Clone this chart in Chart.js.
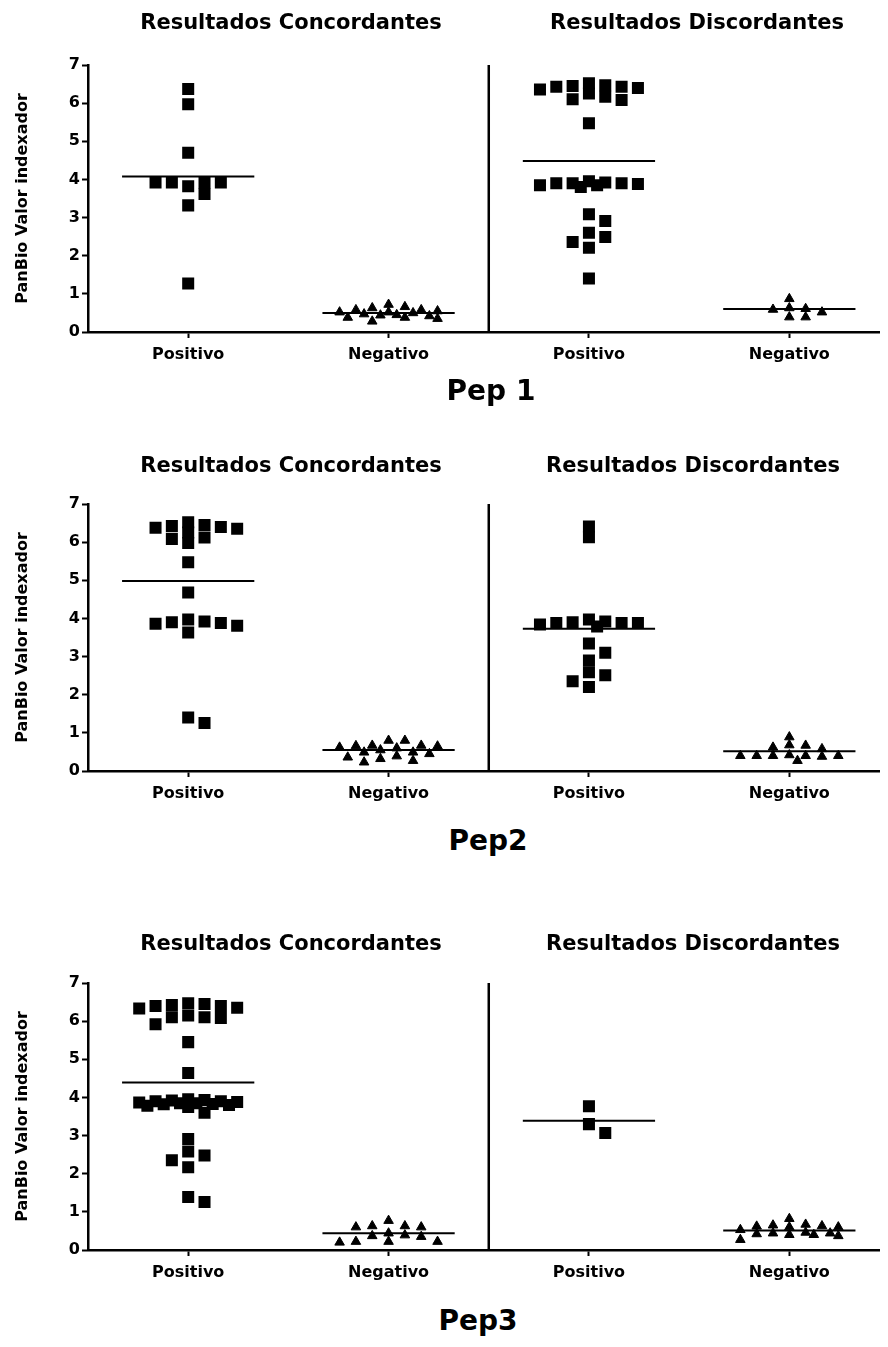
<!DOCTYPE html>
<html>
<head>
<meta charset="utf-8">
<script src="https://cdn.jsdelivr.net/npm/chart.js@4"></script>
<style>
  body { margin: 0; background: #fff; width: 888px; height: 1347px; position: relative; overflow: hidden; font-family: "DejaVu Sans", sans-serif; }
  .panel { position: absolute; left: 0; width: 888px; height: 375px; }
  .lbl { position: absolute; transform: translate(-50%, -50%); font-weight: bold; white-space: nowrap; color: #000; }
  .sub { font-size: 21px; }
  .pep { font-size: 28px; }
</style>
</head>
<body>
<div class="panel" style="top:0px"><canvas id="c1"></canvas></div>
<div class="panel" style="top:439px"><canvas id="c2"></canvas></div>
<div class="panel" style="top:918px"><canvas id="c3"></canvas></div>

<div class="lbl sub" id="t1a" style="left:291px;top:22px"></div>
<div class="lbl sub" id="t1b" style="left:697px;top:22px"></div>
<div class="lbl pep" id="p1" style="left:491px;top:390px"></div>
<div class="lbl sub" id="t2a" style="left:291px;top:465px"></div>
<div class="lbl sub" id="t2b" style="left:693px;top:465px"></div>
<div class="lbl pep" id="p2" style="left:488px;top:840px"></div>
<div class="lbl sub" id="t3a" style="left:291px;top:943px"></div>
<div class="lbl sub" id="t3b" style="left:693px;top:943px"></div>
<div class="lbl pep" id="p3" style="left:478px;top:1320px"></div>

<script>
const categories = ["Positivo", "Negativo", "Positivo", "Negativo"];
const yTicks = [0, 1, 2, 3, 4, 5, 6, 7];
const sectionTitles = ["Resultados Concordantes", "Resultados Discordantes"];
const panelTitles = ["Pep 1", "Pep2", "Pep3"];
const yTitle = "PanBio Valor indexador";

// Pep 1
const pep1ConcPos = [6.37, 5.97, 4.70, 3.82, 3.92, 3.92, 3.62, 3.92, 3.92, 3.32, 1.27];
const pep1ConcNeg = [0.72, 0.66, 0.63, 0.58, 0.58, 0.55, 0.52, 0.52, 0.50, 0.47, 0.45, 0.44, 0.42, 0.38, 0.38, 0.35, 0.28];
const pep1DiscPos = [6.52, 6.47, 6.45, 6.43, 6.43, 6.40, 6.36, 6.25, 6.17, 6.10, 6.08, 5.47,
  3.95, 3.92, 3.90, 3.90, 3.90, 3.88, 3.85, 3.85, 3.80, 3.09, 2.91, 2.60, 2.49, 2.36, 2.21, 1.40];
const pep1DiscNeg = [0.87, 0.63, 0.61, 0.59, 0.52, 0.39, 0.39];
const pep1Means = [4.08, 0.50, 4.48, 0.60];

// Pep 2
const pep2ConcPos = [6.52, 6.45, 6.42, 6.40, 6.38, 6.35, 6.25, 6.12, 6.08, 5.98, 5.47, 4.68,
  3.97, 3.92, 3.90, 3.88, 3.86, 3.81, 3.63, 1.40, 1.26];
const pep2ConcNeg = [0.80, 0.80, 0.67, 0.67, 0.66, 0.65, 0.62, 0.60, 0.55, 0.49, 0.49, 0.45, 0.39, 0.36, 0.32, 0.27, 0.23];
const pep2DiscPos = [6.41, 6.13, 3.97, 3.92, 3.90, 3.88, 3.88, 3.88, 3.84, 3.79, 3.34, 3.10, 2.90, 2.59, 2.51, 2.35, 2.20];
const pep2DiscNeg = [0.89, 0.68, 0.67, 0.62, 0.58, 0.42, 0.40, 0.40, 0.40, 0.40, 0.40, 0.38, 0.27];
const pep2Means = [4.98, 0.55, 3.73, 0.52];

// Pep 3
const pep3ConcPos = [6.47, 6.45, 6.42, 6.40, 6.40, 6.35, 6.33, 6.15, 6.10, 6.10, 6.08, 5.92, 5.45, 4.64,
  3.95, 3.93, 3.92, 3.90, 3.90, 3.88, 3.87, 3.85, 3.85, 3.83, 3.82, 3.80, 3.78, 3.75, 3.60,
  2.91, 2.58, 2.48, 2.35, 2.17, 1.39, 1.26];
const pep3ConcNeg = [0.77, 0.63, 0.63, 0.60, 0.60, 0.44, 0.39, 0.37, 0.35, 0.22, 0.22, 0.22, 0.20];
const pep3DiscPos = [3.77, 3.30, 3.07];
const pep3DiscNeg = [0.82, 0.67, 0.65, 0.63, 0.62, 0.60, 0.60, 0.53, 0.46, 0.44, 0.44, 0.42, 0.40, 0.40, 0.37, 0.27];
const pep3Means = [4.39, 0.44, 3.39, 0.51];

Chart.defaults.font.family = "'DejaVu Sans', sans-serif";
Chart.defaults.color = "#000";

const X_MIN = 0.5, X_MAX = 4.45;
const PX_X = 800 / (X_MAX - X_MIN), PX_Y = 267 / 7;

// column scatter spread, like the prism dot plots; overlaps once the column is full
function swarm(values, center, boxW, boxH, maxW) {
  const placed = [];
  const step = 8.25;
  const cands = [0];
  for (let k = 1; k * step <= maxW; k++) cands.push(k * step, -k * step);
  values.forEach(v => {
    const py = v * PX_Y;
    let best = null, bestScore = Infinity;
    for (const off of cands) {
      let score = 0;
      placed.forEach(p => {
        const ox = boxW - Math.abs(p.ox - off), oy = boxH - Math.abs(p.py - py);
        if (ox > 0 && oy > 0) score += ox * oy;
      });
      if (score < bestScore - 1e-9) { bestScore = score; best = off; }
      if (score === 0) break;
    }
    placed.push({ ox: best, py: py, v: v });
  });
  return placed.map(p => ({ x: center + p.ox / PX_X, y: p.v }));
}

function meanLine(center, m) {
  return {
    type: "line", data: [{ x: center - 0.33, y: m }, { x: center + 0.33, y: m }],
    borderColor: "#000", borderWidth: 2, pointRadius: 0, showLine: true
  };
}

function makePanel(id, groups, means) {
  const datasets = [];
  groups.forEach((vals, i) => {
    const sq = i % 2 === 0;
    datasets.push({
      data: sq ? swarm(vals, i + 1, 13, 10, 50) : swarm(vals, i + 1, 11, 8, 50),
      pointStyle: sq ? "rect" : "triangle",
      pointRadius: sq ? 8.5 : 5.5,
      backgroundColor: "#000",
      borderColor: "#000",
      borderWidth: sq ? 0 : 1
    });
    datasets.push(meanLine(i + 1, means[i]));
  });
  datasets.push({
    type: "line", data: [{ x: 2.5, y: 0 }, { x: 2.5, y: 7 }],
    borderColor: "#000", borderWidth: 2.5, pointRadius: 0, showLine: true
  });

  new Chart(document.getElementById(id), {
    type: "scatter",
    data: { datasets: datasets },
    options: {
      responsive: true,
      maintainAspectRatio: false,
      animation: false,
      layout: { padding: { top: 65, left: 0, right: 0, bottom: 0 } },
      plugins: { legend: { display: false }, tooltip: { enabled: false } },
      scales: {
        x: {
          type: "linear", min: X_MIN, max: X_MAX,
          afterBuildTicks: s => { s.ticks = categories.map((c, i) => ({ value: i + 1 })); },
          afterFit: s => { s.height = 43; },
          grid: { drawOnChartArea: false, drawTicks: true, tickLength: 6, tickColor: "#000", tickWidth: 2 },
          border: { display: true, color: "#000", width: 2.5 },
          ticks: {
            autoSkip: false, maxRotation: 0, padding: 7,
            font: { size: 16, weight: "bold" },
            callback: v => categories[Math.round(v) - 1]
          }
        },
        y: {
          min: 0, max: 7,
          afterBuildTicks: s => { s.ticks = yTicks.map(v => ({ value: v })); },
          afterFit: s => { s.width = 88; },
          grid: { drawOnChartArea: false, drawTicks: true, tickLength: 6, tickColor: "#000", tickWidth: 2 },
          border: { display: true, color: "#000", width: 2.5 },
          ticks: { padding: 2, font: { size: 16, weight: "bold" } },
          title: { display: true, text: yTitle, font: { size: 16, weight: "bold" }, padding: { top: 13, bottom: 0 } }
        }
      }
    }
  });
}

makePanel("c1", [pep1ConcPos, pep1ConcNeg, pep1DiscPos, pep1DiscNeg], pep1Means);
makePanel("c2", [pep2ConcPos, pep2ConcNeg, pep2DiscPos, pep2DiscNeg], pep2Means);
makePanel("c3", [pep3ConcPos, pep3ConcNeg, pep3DiscPos, pep3DiscNeg], pep3Means);

["t1a", "t2a", "t3a"].forEach(id => { document.getElementById(id).textContent = sectionTitles[0]; });
["t1b", "t2b", "t3b"].forEach(id => { document.getElementById(id).textContent = sectionTitles[1]; });
["p1", "p2", "p3"].forEach((id, i) => { document.getElementById(id).textContent = panelTitles[i]; });
</script>
</body>
</html>
